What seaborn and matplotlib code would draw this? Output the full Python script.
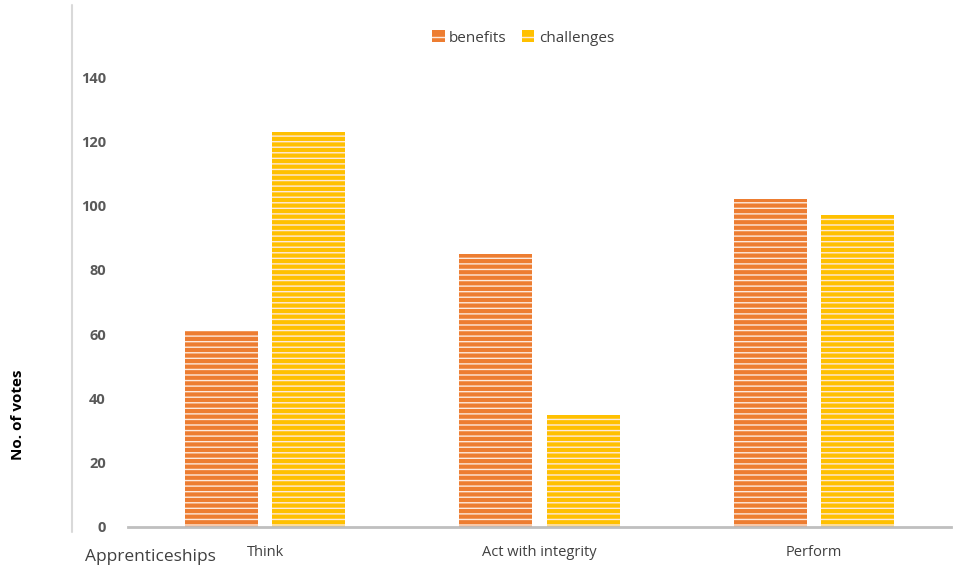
import matplotlib
matplotlib.use("Agg")
import matplotlib.pyplot as plt
import seaborn as sns
import pandas as pd
from matplotlib.lines import Line2D

categories = ["Think", "Act with integrity", "Perform"]
benefits = [61, 85, 102]
challenges = [123, 35, 97]
series_names = ["benefits", "challenges"]
yticks = [0, 20, 40, 60, 80, 100, 120, 140]

df = pd.DataFrame({
    "category": categories * 2,
    "series": [series_names[0]] * 3 + [series_names[1]] * 3,
    "votes": benefits + challenges,
})

sns.set_theme(style="white")
plt.rcParams["font.family"] = ["Open Sans", "DejaVu Sans"]
plt.rcParams["hatch.linewidth"] = 1.0

colors = {"benefits": "#ED7D31", "challenges": "#FFC000"}

fig = plt.figure(figsize=(9.6, 5.72), dpi=100)
ax = fig.add_axes([128 / 960, 1 - 527 / 572, (951 - 128) / 960, (527 - 77) / 572])

sns.barplot(data=df, x="category", y="votes", hue="series", palette=colors,
            width=0.636, gap=0.163, saturation=1, ax=ax, legend=False)

for p in ax.patches:
    p.set_hatch("---")
    p.set_edgecolor("#fde9dc")
    p.set_linewidth(0)

ax.set_xlim(-0.5, 2.5)
ax.set_ylim(0, 140)
ax.set_yticks(yticks)
ax.set_yticklabels([str(t) for t in yticks], fontweight="bold", color="#595959", fontsize=10.5)
ax.tick_params(axis="y", length=0, pad=16)
ax.tick_params(axis="x", length=0, pad=13, labelsize=10.5, labelcolor="#404040")
ax.set_xlabel("")
ax.set_ylabel("")
for s in ["top", "right", "left"]:
    ax.spines[s].set_visible(False)
ax.spines["bottom"].set_color("#bfbfbf")
ax.spines["bottom"].set_linewidth(2)

# legend
handles = [plt.Rectangle((0, 0), 1, 1, facecolor=colors[n], edgecolor="#fde9dc",
                         linewidth=0, hatch="--") for n in series_names]
fig.legend(handles, series_names, loc="center", bbox_to_anchor=(0.545, 1 - 38 / 572),
           ncol=2, frameon=False, fontsize=11, handlelength=0.8, handleheight=0.8,
           handletextpad=0.3, columnspacing=1.0, labelcolor="#404040")

fig.text(18 / 960, 1 - 415 / 572, "No. of votes", rotation=90, ha="center", va="center",
         fontsize=11, fontweight="bold", color="black")
fig.text(85 / 960, 1 - 557 / 572, "Apprenticeships", ha="left", va="center",
         fontsize=12.5, color="#404040")

fig.add_artist(Line2D([72 / 960, 72 / 960], [1 - 5 / 572, 1 - 532 / 572],
                      transform=fig.transFigure, color="#d9d9d9", linewidth=1.5))

fig.savefig("out.png", dpi=100)
